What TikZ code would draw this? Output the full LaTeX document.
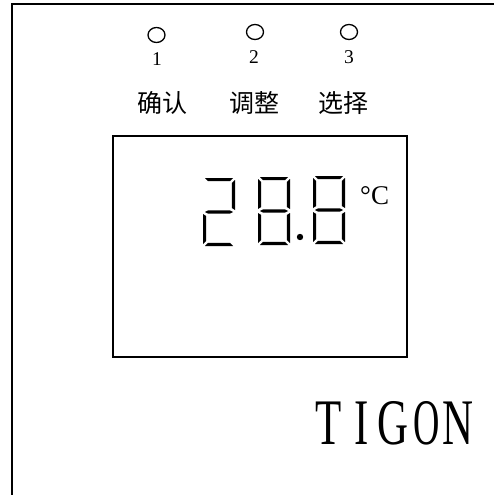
\documentclass[tikz,border=0pt]{standalone}
\usepackage{fontspec}
\setmainfont{Liberation Serif}
\newfontfamily\cjk{Noto Sans CJK SC}
\usetikzlibrary{shapes.geometric}
\tikzset{
  frameline/.style={line width=2pt},
  btn/.style={draw, ellipse, line width=1.3pt, minimum width=17pt, minimum height=15pt, inner sep=0pt},
  numlbl/.style={inner sep=0pt, font=\fontsize{19.5}{19.5}\selectfont},
  cnlbl/.style={inner sep=0pt, font=\cjk\fontsize{25}{25}\selectfont},
  brand/.style={inner sep=0pt, anchor=base, xscale=0.66, font=\fontsize{65}{65}\selectfont},
  seg/.style={fill=black}
}
\newcommand{\sgA}{\fill[seg] (2,0)--(30,0)--(27,3.2)--(5,3.2)--cycle;}
\newcommand{\sgB}{\fill[seg] (32,2)--(32,32)--(28.8,30)--(28.8,5)--cycle;}
\newcommand{\sgC}{\fill[seg] (32,36)--(32,66)--(28.8,63)--(28.8,38)--cycle;}
\newcommand{\sgD}{\fill[seg] (2,68)--(30,68)--(27,64.8)--(5,64.8)--cycle;}
\newcommand{\sgE}{\fill[seg] (0,36)--(0,66)--(3.2,63)--(3.2,38)--cycle;}
\newcommand{\sgF}{\fill[seg] (0,2)--(0,32)--(3.2,30)--(3.2,5)--cycle;}
\newcommand{\sgG}{\fill[seg] (2,34)--(5,32.4)--(27,32.4)--(30,34)--(27,35.6)--(5,35.6)--cycle;}
\begin{document}
\begin{tikzpicture}[x=1pt,y=-1pt]
\useasboundingbox (0,0) rectangle (493,495);
\fill[white] (0,0) rectangle (493,495);
% outer frame (left and top edges)
\coordinate (fbl) at (12,496);
\coordinate (ftl) at (12,4);
\coordinate (ftr) at (494,4);
\draw[frameline] (fbl) -- (ftl) -- (ftr);
% buttons
\node[btn] (b1) at (156.5,35) {};
\node[btn] (b2) at (255,32) {};
\node[btn] (b3) at (349,32) {};
\node[numlbl] (n1) at (157,59) {1};
\node[numlbl] (n2) at (254,57.5) {2};
\node[numlbl] (n3) at (349,57.5) {3};
\node[cnlbl] (c1) at (162,103) {确认};
\node[cnlbl] (c2) at (254,103) {调整};
\node[cnlbl] (c3) at (343,103) {选择};
% display
\draw[frameline] (113,136) rectangle (407,357);
\begin{scope}[shift={(203,178)}]
  \sgA \sgB \sgG \sgE \sgD
\end{scope}
\begin{scope}[shift={(258,177)}]
  \sgA \sgB \sgC \sgD \sgE \sgF \sgG
\end{scope}
\begin{scope}[shift={(313,176)}]
  \sgA \sgB \sgC \sgD \sgE \sgF \sgG
\end{scope}
\fill (300,237) circle (3.2);
\node[inner sep=0pt, anchor=base west, font=\fontsize{27}{27}\selectfont] (deg) at (360,204) {°C};
% brand
\node[brand] (t1) at (329,444) {T};
\node[brand] (t2) at (362,444) {I};
\node[brand] (t3) at (393,444) {G};
\node[brand, xscale=0.85] (t4) at (427,444) {O};
\node[brand] (t5) at (458,444) {N};
\end{tikzpicture}
\end{document}
